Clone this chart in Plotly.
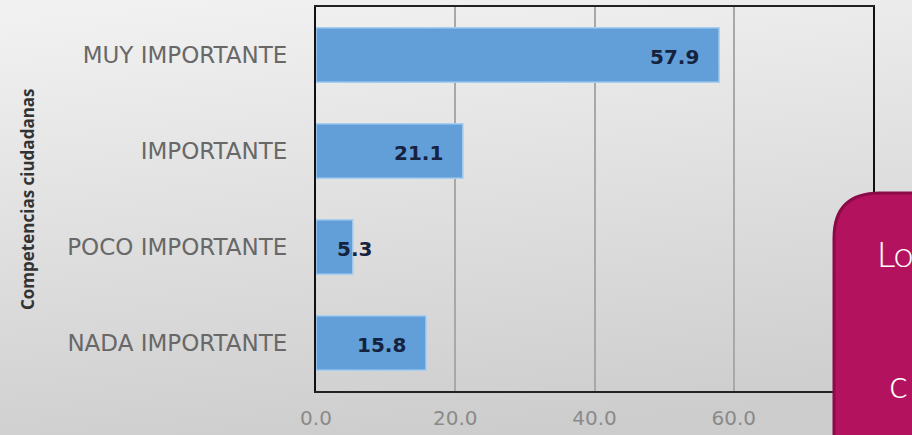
import base64
import plotly.graph_objects as go

# ---- data ----
categories = ["MUY IMPORTANTE", "IMPORTANTE", "POCO IMPORTANTE", "NADA IMPORTANTE"]
values = [57.9, 21.1, 5.3, 15.8]
x_ticks = [0, 20, 40, 60, 80]
x_tick_labels = ["0.0", "20.0", "40.0", "60.0", "80.0"]
axis_title = "Competencias ciudadanas"

W, H = 912, 435
ML, MR, MT, MB = 316, 39, 5, 38
PW, PH = W - ML - MR, H - MT - MB


def px(x):
    return (x - ML) / PW


def py(y):
    return (H - MB - y) / PH


fig = go.Figure()
fig.add_trace(go.Bar(
    x=values, y=categories, orientation="h",
    width=0.57,
    marker=dict(color="#629fd9", line=dict(color="#a9cdef", width=1.5)),
    hoverinfo="x+y",
))

# background gradient image
svg = ('<svg xmlns="http://www.w3.org/2000/svg" width="100" height="100" preserveAspectRatio="none">'
       '<defs><linearGradient id="g" x1="0.3" y1="0" x2="0.5" y2="1">'
       '<stop offset="0" stop-color="#f1f1f1"/><stop offset="1" stop-color="#cdcdcd"/>'
       '</linearGradient></defs><rect width="100" height="100" fill="url(#g)"/></svg>')
src = "data:image/svg+xml;base64," + base64.b64encode(svg.encode()).decode()
fig.add_layout_image(dict(source=src, xref="paper", yref="paper",
                          x=px(-10), y=py(-10), sizex=(W + 20) / PW, sizey=(H + 20) / PH,
                          xanchor="left", yanchor="top", sizing="stretch",
                          layer="below"))

label_font = dict(family="DejaVu Sans", size=20, color="#16233f", weight="bold")
annotations = []
for c, v in zip(categories, values):
    if v < 10:
        annotations.append(dict(x=0, y=c, xref="x", yref="y", text=f"{v:.1f}",
                                xanchor="left", xshift=19, yshift=-2, showarrow=False,
                                font=label_font))
    else:
        annotations.append(dict(x=v, y=c, xref="x", yref="y", text=f"{v:.1f}",
                                xanchor="right", xshift=-18, yshift=-2, showarrow=False,
                                font=label_font))

annotations.append(dict(x=px(27), y=py(201), xref="paper", yref="paper", text=axis_title,
                        textangle=-90, showarrow=False, xanchor="center", yanchor="middle",
                        font=dict(family="Open Sans", size=17, color="#333333", weight=700)))

# magenta callout text (partly outside the picture)
annotations.append(dict(x=px(875), y=py(256), xref="paper", yref="paper", text="Lo",
                        showarrow=False, xanchor="left", yanchor="middle",
                        font=dict(family="Lato", size=36, color="#ffffff", weight=300)))
annotations.append(dict(x=px(887), y=py(389), xref="paper", yref="paper", text="c",
                        showarrow=False, xanchor="left", yanchor="middle",
                        font=dict(family="Lato", size=40, color="#ffffff", weight=300)))

r = 46
x0, y0, x1, y1 = 834, 195, 960, 480
path = (f"M {px(x0)},{py(y1)} L {px(x0)},{py(y0 + r)} "
        f"Q {px(x0)},{py(y0)} {px(x0 + r)},{py(y0)} "
        f"L {px(x1)},{py(y0)} L {px(x1)},{py(y1)} Z")

fig.update_layout(
    width=W, height=H,
    margin=dict(l=ML, r=MR, t=MT, b=MB, pad=0),
    paper_bgcolor="#d6d6d6",
    plot_bgcolor="rgba(0,0,0,0)",
    showlegend=False,
    bargap=0.43,
    annotations=annotations,
    shapes=[dict(type="path", path=path, xref="paper", yref="paper",
                 fillcolor="#b3125e", line=dict(color="#8c0a48", width=3), layer="above")],
    xaxis=dict(range=[0, 80], tickvals=x_ticks, ticktext=x_tick_labels,
               showgrid=True, gridcolor="#a8a8a8", gridwidth=2,
               showline=True, linecolor="#222222", linewidth=2, mirror=True,
               zeroline=False, ticks="", ticklabelstandoff=8,
               tickfont=dict(family="DejaVu Sans", size=20, color="#8a8a8a")),
    yaxis=dict(categoryorder="array", categoryarray=categories, autorange="reversed",
               showgrid=False, showline=True, linecolor="#111111", linewidth=2, mirror=True,
               zeroline=False, ticks="", ticklabelstandoff=22,
               tickfont=dict(family="DejaVu Sans", size=23, color="#686868")),
)

fig.write_html("out.html", config={"displayModeBar": False},
               post_script="document.body.style.margin='0';document.body.style.overflow='hidden';")
